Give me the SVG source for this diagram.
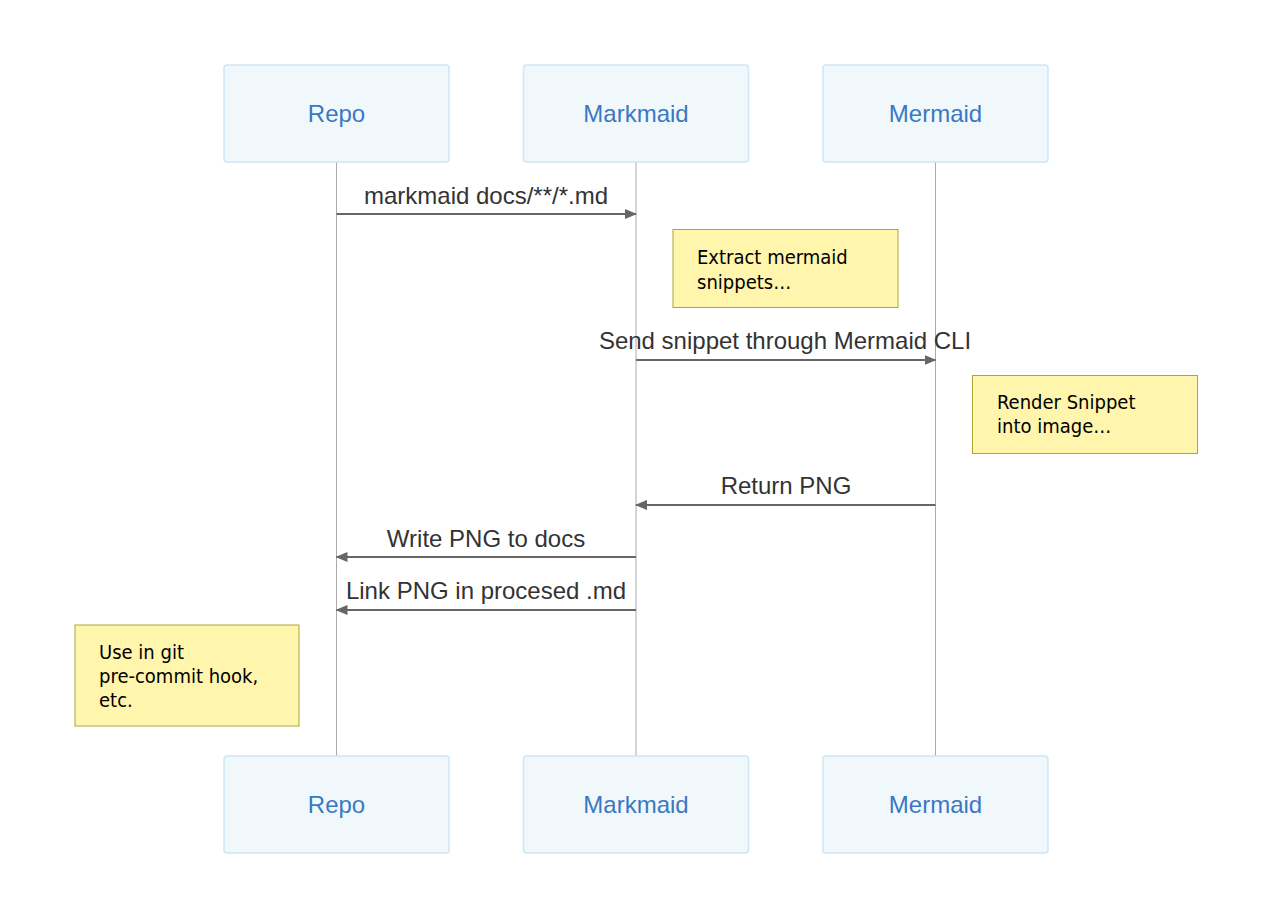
<svg xmlns="http://www.w3.org/2000/svg" width="1280" height="911" viewBox="0 0 1280 911">
<defs>
<style>
.actor{fill:#f1f8fc;stroke:#cde6f5;stroke-width:1.5}
.atext{font-family:"Liberation Sans",Arial,sans-serif;font-size:24px;fill:#3a78c3;text-anchor:middle;dominant-baseline:central}
.life{stroke:#aaaaaa;stroke-width:1}
.msg{stroke:#666666;stroke-width:2;fill:none}
.mtext{font-family:"Liberation Sans",Arial,sans-serif;font-size:24px;fill:#333333;text-anchor:middle}
.note{fill:#fff5ad;stroke:#aaaa33;stroke-width:1}
.ntext{font-family:"DejaVu Sans Condensed","DejaVu Sans",sans-serif;font-size:20px;fill:#000000}
</style>
<marker id="arrow" viewBox="0 0 12 10" refX="11" refY="5" markerWidth="12" markerHeight="10" markerUnits="userSpaceOnUse" orient="auto">
<path d="M0,0 L12,5 L0,10 z" fill="#666666"/>
</marker>
</defs>
<rect width="1280" height="911" fill="#ffffff"/>
<g id="lifelines">
<line class="life" x1="336.5" y1="162" x2="336.5" y2="756"/>
<line class="life" x1="636" y1="162" x2="636" y2="756"/>
<line class="life" x1="935.5" y1="162" x2="935.5" y2="756"/>
</g>
<g id="repo-top"><rect class="actor" x="224" y="65" width="225" height="97" rx="3"/><text class="atext" x="336.5" y="113">Repo</text></g>
<g id="markmaid-top"><rect class="actor" x="523.5" y="65" width="225" height="97" rx="3"/><text class="atext" x="636" y="113">Markmaid</text></g>
<g id="mermaid-top"><rect class="actor" x="823" y="65" width="225" height="97" rx="3"/><text class="atext" x="935.5" y="113">Mermaid</text></g>
<g id="repo-bottom"><rect class="actor" x="224" y="756" width="225" height="97" rx="3"/><text class="atext" x="336.5" y="804">Repo</text></g>
<g id="markmaid-bottom"><rect class="actor" x="523.5" y="756" width="225" height="97" rx="3"/><text class="atext" x="636" y="804">Markmaid</text></g>
<g id="mermaid-bottom"><rect class="actor" x="823" y="756" width="225" height="97" rx="3"/><text class="atext" x="935.5" y="804">Mermaid</text></g>
<g id="connectors">
<line class="msg" x1="336.5" y1="214" x2="636" y2="214" marker-end="url(#arrow)"/>
<text class="mtext" x="486" y="204">markmaid docs/**/*.md</text>
<line class="msg" x1="636" y1="360" x2="935.5" y2="360" marker-end="url(#arrow)"/>
<text class="mtext" x="785" y="349">Send snippet through Mermaid CLI</text>
<line class="msg" x1="935.5" y1="505" x2="636" y2="505" marker-end="url(#arrow)"/>
<text class="mtext" x="786" y="494">Return PNG</text>
<line class="msg" x1="636" y1="557" x2="336.5" y2="557" marker-end="url(#arrow)"/>
<text class="mtext" x="486" y="547">Write PNG to docs</text>
<line class="msg" x1="636" y1="610" x2="336.5" y2="610" marker-end="url(#arrow)"/>
<text class="mtext" x="486" y="599">Link PNG in procesed .md</text>
</g>
<g id="note1"><rect class="note" x="673" y="229.5" width="225" height="78"/><text class="ntext" x="697" y="264">Extract mermaid</text><text class="ntext" x="697" y="289">snippets…</text></g>
<g id="note2"><rect class="note" x="972.5" y="375.5" width="225" height="78"/><text class="ntext" x="997" y="409">Render Snippet</text><text class="ntext" x="997" y="433">into image…</text></g>
<g id="note3"><rect class="note" x="75" y="625" width="224" height="101"/><text class="ntext" x="99" y="659">Use in git</text><text class="ntext" x="99" y="683">pre-commit hook,</text><text class="ntext" x="99" y="707">etc.</text></g>
</svg>
